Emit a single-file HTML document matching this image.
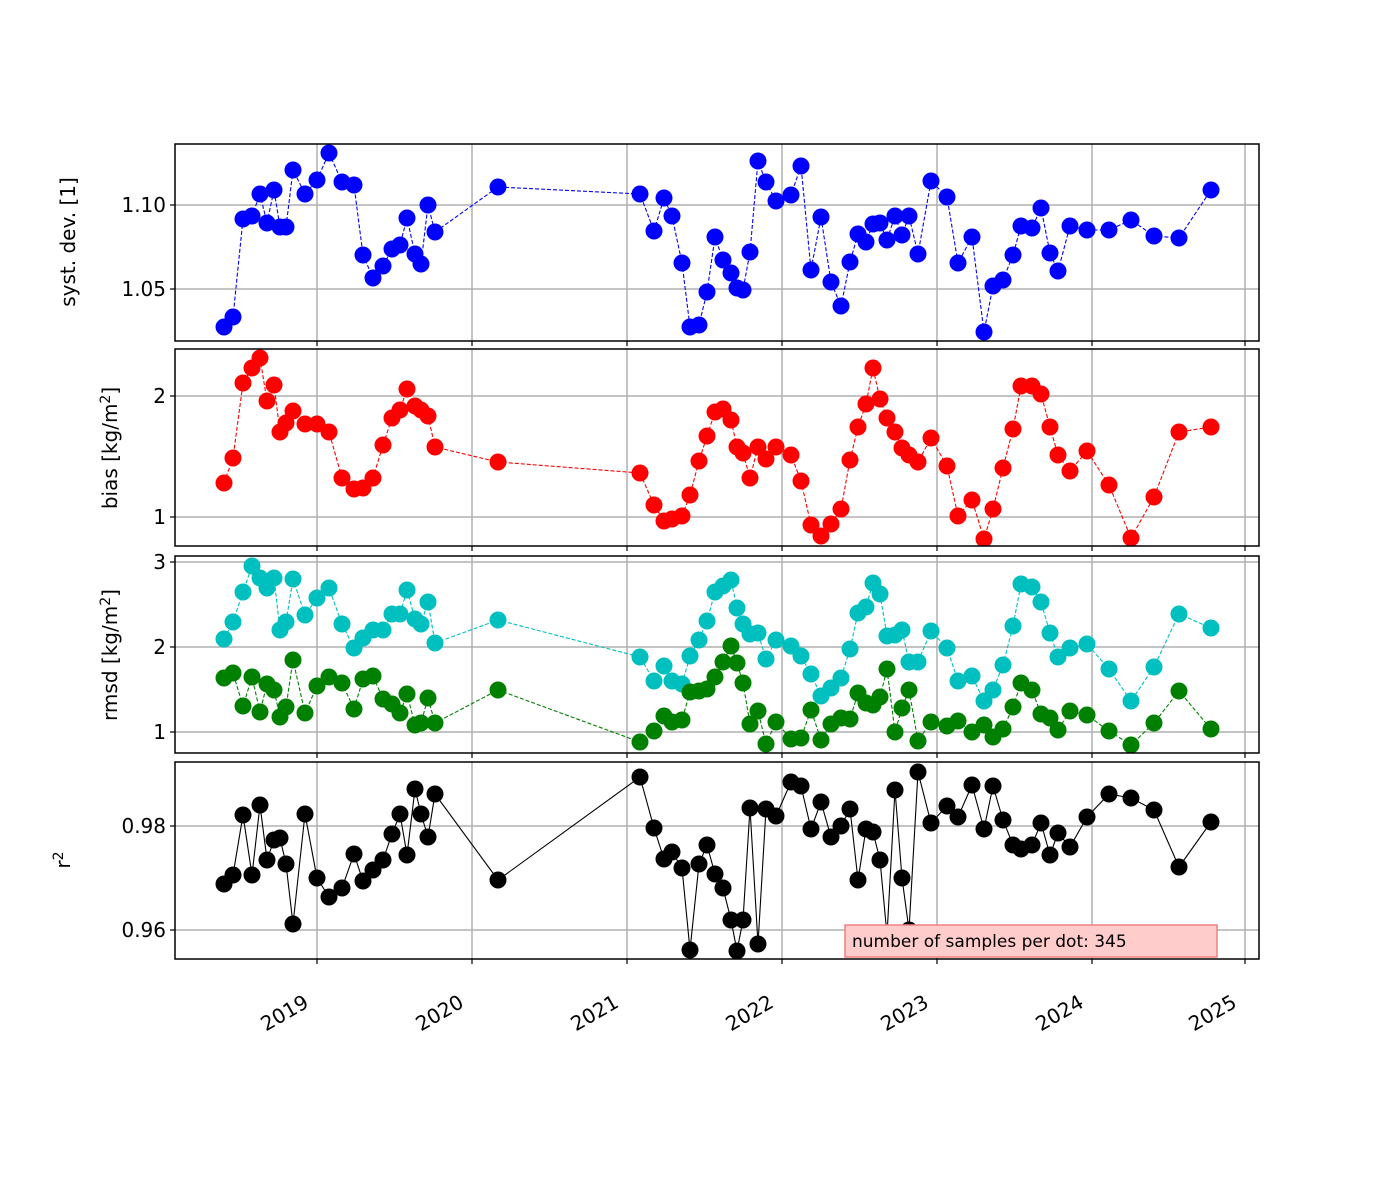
<!DOCTYPE html>
<html><head><meta charset="utf-8"><style>body{margin:0;background:#fff}svg{display:block}text{font-family:"DejaVu Sans","Liberation Sans",sans-serif;fill:#000}</style></head>
<body>
<svg id="s" width="1400" height="1200" xmlns="http://www.w3.org/2000/svg"></svg>
<script>
const X=[224,233,243,252,260,267,274,280,286,293,305,317,329,342,354,363,373,383,392,400,407,415,421,428,435,498,640,654,664,672,682,690,699,707,715,723,731,737,743,750,758,766,776,791,801,811,821,831,841,850,858,866,873,880,887,895,902,909,918,931,947,958,972,984,993,1003,1013,1021,1032,1041,1050,1058,1070,1087,1109,1131,1154,1179,1211];
const S1=[327,317,219,216,194,223,190,227,227,170,194,180,153,182,185,255,278,266,249,245,218,254,264,205,232,187,194,231,198,216,263,327,325,292,237,260,273,288,290,252,161,182,201,195,166,270,217,282,306,262,234,242,224,223,240,216,235,216,254,181,197,263,237,332,286,280,255,226,228,208,253,271,226,230,230,220,236,238,190];
const S2=[483,458,383,368,358,401,385,432,423,411,424,424,432,478,489,488,478,445,418,410,389,406,410,416,447,462,473,505,521,519,516,495,461,436,412,409,420,447,453,478,447,459,447,455,481,525,536,524,509,460,427,404,368,399,418,432,448,455,462,438,466,516,500,539,509,468,429,386,386,394,427,455,471,451,485,538,497,432,427];
const S3=[639,622,592,566,578,588,578,630,622,579,615,598,588,624,648,638,630,630,614,614,590,619,624,602,643,620,657,681,666,681,684,656,640,621,592,586,580,608,624,634,633,659,640,646,656,674,696,688,678,649,613,607,583,594,636,635,630,662,662,631,648,681,676,701,690,665,626,584,587,602,633,657,648,644,669,701,667,614,628];
const S4=[678,673,706,677,712,684,690,717,707,660,713,686,677,683,709,679,676,699,704,713,694,725,723,698,723,690,742,731,716,722,720,692,691,689,677,662,646,663,683,724,711,744,722,739,738,710,740,724,718,719,693,703,705,697,669,732,708,690,741,722,726,721,732,725,737,729,707,683,690,714,718,730,711,715,731,745,723,691,729];
const S5=[884,875,815,875,805,860,840,838,864,924,814,878,897,888,854,881,870,860,834,814,855,789,814,837,794,880,777,828,859,852,868,950,864,845,874,888,920,951,920,808,944,809,816,782,786,829,802,837,826,809,880,829,832,860,935,790,878,930,772,823,806,817,785,829,786,820,845,849,845,823,855,833,847,817,794,798,810,867,822];
const P=[[144,341],[349,546],[556,753],[762,959]];
const L=175,R=1259;
let h='';
P.forEach((p,i)=>{h+=`<clipPath id="c${i}"><rect x="${L}" y="${p[0]}" width="${R-L}" height="${p[1]-p[0]}"/></clipPath>`;});
const years=[[317,'2019'],[472,'2020'],[627,'2021'],[782,'2022'],[937,'2023'],[1092,'2024'],[1245,'2025']];
const yt=[[[205,'1.10'],[289,'1.05']],[[396,'2'],[517,'1']],[[562,'3'],[647,'2'],[732,'1']],[[826,'0.98'],[930,'0.96']]];
P.forEach((p,i)=>{
 years.forEach(y=>{h+=`<line x1="${y[0]}" y1="${p[0]}" x2="${y[0]}" y2="${p[1]}" stroke="#b0b0b0" stroke-width="1.5"/>`;h+=`<line x1="${y[0]}" y1="${p[1]}" x2="${y[0]}" y2="${p[1]+5}" stroke="#000" stroke-width="1.2"/>`;});
 yt[i].forEach(t=>{h+=`<line x1="${L}" y1="${t[0]}" x2="${R}" y2="${t[0]}" stroke="#b0b0b0" stroke-width="1.5"/>`;h+=`<line x1="${L-5}" y1="${t[0]}" x2="${L}" y2="${t[0]}" stroke="#000" stroke-width="1.2"/>`;h+=`<text x="${L-9}" y="${t[0]+7}" font-size="20" text-anchor="end">${t[1]}</text>`;});
});
function ser(ys,col,pi,dash){
 let pts=X.map((x,i)=>x+','+ys[i]).join(' ');
 let g=`<g clip-path="url(#c${pi})"><polyline points="${pts}" fill="none" stroke="${col}" stroke-width="1.1" ${dash?'stroke-dasharray="4,2"':''}/>`;
 X.forEach((x,i)=>{g+=`<circle cx="${x}" cy="${ys[i]}" r="8.5" fill="${col}"/>`;});
 return g+'</g>';
}
h+=ser(S1,'#0000ff',0,1)+ser(S2,'#ff0000',1,1)+ser(S3,'#00bfbf',2,1)+ser(S4,'#008000',2,1)+ser(S5,'#000',3,0);
P.forEach(p=>{h+=`<rect x="${L}" y="${p[0]}" width="${R-L}" height="${p[1]-p[0]}" fill="none" stroke="#000" stroke-width="1.5"/>`;});
years.forEach(y=>{h+=`<text transform="translate(${y[0]-14},${994}) rotate(-30)" font-size="20" text-anchor="end" dy="14">${y[1]}</text>`;});
const lab=[[242,'syst. dev. [1]'],[448,'bias [kg/m<tspan dy="-7" font-size="14">2</tspan><tspan dy="7">]</tspan>'],[655,'rmsd [kg/m<tspan dy="-7" font-size="14">2</tspan><tspan dy="7">]</tspan>'],[860,'r<tspan dy="-7" font-size="14">2</tspan>']];
const lx=[75,117,117,70];
lab.forEach((l,i)=>{h+=`<text transform="translate(${lx[i]},${l[0]}) rotate(-90)" font-size="20" text-anchor="middle">${l[1]}</text>`;});
h+=`<rect x="845" y="925" width="372" height="32" fill="#ffcccc" stroke="#f08080" stroke-width="1.5"/><text x="852" y="947" font-size="17">number of samples per dot: 345</text>`;
document.getElementById('s').innerHTML=h;
</script>
</body></html>
